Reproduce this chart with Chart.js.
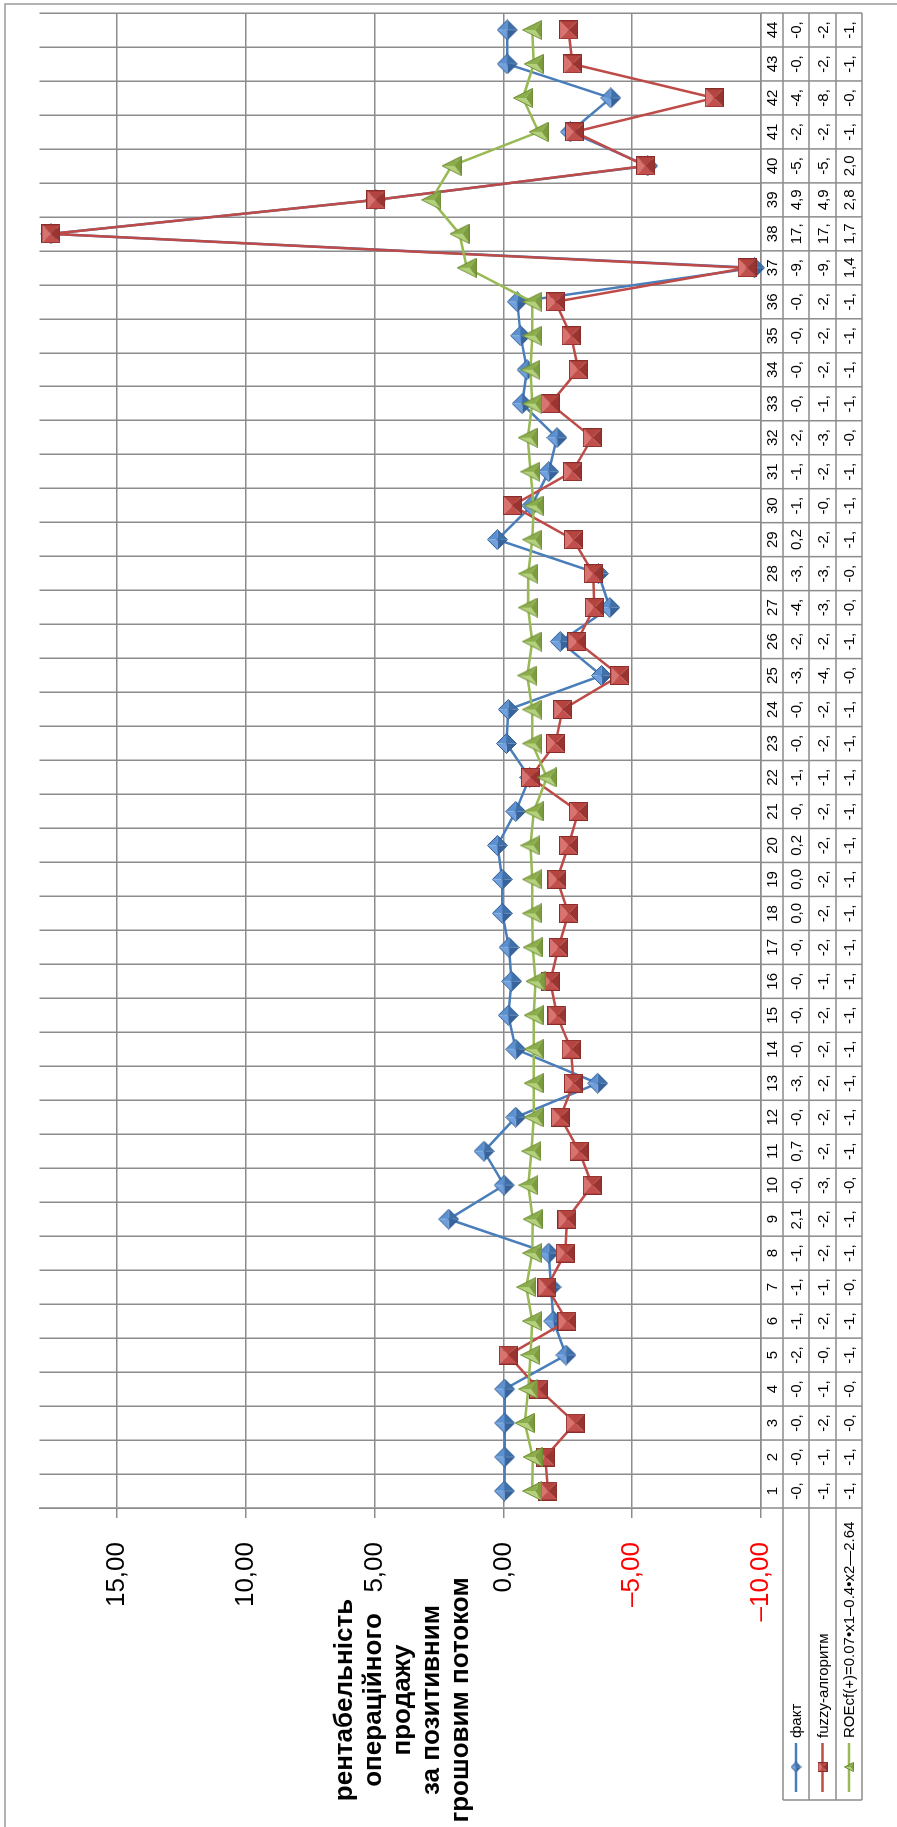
<!DOCTYPE html>
<html>
<head>
<meta charset="utf-8">
<script src="https://cdn.jsdelivr.net/npm/chart.js@4.4.1/dist/chart.umd.min.js"></script>
<style>
  html, body { margin: 0; padding: 0; background: #ffffff; overflow: hidden; }
  body { width: 897px; height: 1827px; position: relative; }
  /* the chart is laid out landscape and turned a quarter counter-clockwise */
  #frame {
    position: absolute; left: 0; top: 0;
    width: 1827px; height: 897px;
    transform-origin: 0 0;
    transform: translateY(1827px) rotate(-90deg);
  }
  #c { display: block; width: 1827px; height: 897px; }
</style>
</head>
<body>
<div id="frame"><canvas id="c" width="1827" height="897"></canvas></div>
<script>
// ---- data ----
const categories = ['1','2','3','4','5','6','7','8','9','10','11','12','13','14','15','16','17','18','19','20','21','22',
                    '23','24','25','26','27','28','29','30','31','32','33','34','35','36','37','38','39','40','41','42','43','44'];

const factValues = [-0.04, -0.05, -0.05, -0.05, -2.43, -1.95, -1.85, -1.76, 2.12, -0.03, 0.75,
                    -0.48, -3.66, -0.48, -0.19, -0.32, -0.22, 0.04, 0.04, 0.23, -0.48, -1.02,
                    -0.12, -0.19, -3.81, -2.21, -4.13, -3.69, 0.23, -1.10, -1.76, -2.08, -0.73,
                    -0.92, -0.67, -0.54, -9.75, 17.56, 4.95, -5.60, -2.60, -4.17, -0.15, -0.15];

const fuzzyValues = [-1.73, -1.63, -2.79, -1.37, -0.19, -2.47, -1.69, -2.40, -2.47, -3.45, -2.94,
                     -2.21, -2.72, -2.63, -2.08, -1.82, -2.14, -2.53, -2.08, -2.53, -2.91, -1.05,
                     -2.02, -2.30, -4.52, -2.85, -3.53, -3.49, -2.72, -0.35, -2.68, -3.45, -1.82,
                     -2.91, -2.63, -2.02, -9.46, 17.56, 4.95, -5.52, -2.76, -8.18, -2.68, -2.53];

const roeValues = [-1.12, -1.14, -0.83, -0.97, -1.05, -1.12, -0.89, -1.12, -1.14, -0.97, -1.09,
                   -1.18, -1.18, -1.18, -1.18, -1.25, -1.14, -1.12, -1.12, -1.05, -1.18, -1.69,
                   -1.12, -1.12, -0.93, -1.12, -0.96, -0.97, -1.12, -1.18, -1.05, -0.95, -1.12,
                   -1.05, -1.12, -1.12, 1.42, 1.70, 2.80, 2.01, -1.37, -0.76, -1.18, -1.12];

const valueTicks = [-10, -5, 0, 5, 10, 15];
const seriesNames = ['факт', 'fuzzy-алгоритм', 'ROEcf(+)=0.07•x1–0.4•x2—2.64'];
const axisTitleLines = ['рентабельність', 'операційного', 'продажу', 'за позитивним', 'грошовим потоком'];

// ---- look ----
const FONT = '"Liberation Sans", Arial, sans-serif';
const GRID = '#8c8c8c';
const lineColors = ['#4a7ebb', '#be4b48', '#98b954'];

// ---- bevelled marker images ----
function facet(g, pts, fill) {
  g.beginPath();
  g.moveTo(pts[0][0], pts[0][1]);
  for (let i = 1; i < pts.length; i++) g.lineTo(pts[i][0], pts[i][1]);
  g.closePath();
  g.fillStyle = fill;
  g.fill();
}
function newCanvas(s) {
  const c = document.createElement('canvas');
  c.width = s; c.height = s;
  return c;
}
function squareMarker(s) {
  const c = newCanvas(s), g = c.getContext('2d'), m = s / 2;
  facet(g, [[0, 0], [s, 0], [m, m]], '#d9736f');
  facet(g, [[s, 0], [s, s], [m, m]], '#b5443f');
  facet(g, [[s, s], [0, s], [m, m]], '#9a3431');
  facet(g, [[0, s], [0, 0], [m, m]], '#c24f4b');
  g.strokeStyle = '#882d2a'; g.lineWidth = 1;
  g.strokeRect(0.5, 0.5, s - 1, s - 1);
  return c;
}
function diamondMarker(s) {
  const c = newCanvas(s), g = c.getContext('2d'), m = s / 2;
  const t = [m, 0.5], r = [s - 0.5, m], b = [m, s - 0.5], l = [0.5, m], o = [m, m];
  facet(g, [t, r, o], '#5d90d0');
  facet(g, [r, b, o], '#3f70aa');
  facet(g, [b, l, o], '#37629c');
  facet(g, [l, t, o], '#6f9fdc');
  g.beginPath(); g.moveTo(t[0], t[1]); g.lineTo(r[0], r[1]); g.lineTo(b[0], b[1]); g.lineTo(l[0], l[1]); g.closePath();
  g.strokeStyle = '#305d92'; g.lineWidth = 1; g.stroke();
  return c;
}
function triangleMarker(s) {
  const c = newCanvas(s), g = c.getContext('2d'), m = s / 2;
  const a = [m, 0.5], br = [s - 0.5, s - 0.5], bl = [0.5, s - 0.5], o = [m, s * 0.64];
  facet(g, [a, br, o], '#8cad4b');
  facet(g, [br, bl, o], '#7c9c3e');
  facet(g, [bl, a, o], '#b3d17b');
  g.beginPath(); g.moveTo(a[0], a[1]); g.lineTo(br[0], br[1]); g.lineTo(bl[0], bl[1]); g.closePath();
  g.strokeStyle = '#6e8c35'; g.lineWidth = 1; g.stroke();
  return c;
}
const markers = [diamondMarker(21), squareMarker(19), triangleMarker(20)];
const keyMarkers = [diamondMarker(11), squareMarker(10), triangleMarker(10)];

function tickText(v) {
  return (v < 0 ? '–' : '') + Math.abs(v).toFixed(2).replace('.', ',');
}
// narrow table cells only show the first three characters of a value
function cellText(v) {
  return v.toFixed(2).replace('.', ',').slice(0, 3);
}

// ---- frame, axis title, data table with legend keys ----
const decor = {
  id: 'decor',
  beforeDraw(chart) {
    const ctx = chart.ctx;
    ctx.save();
    ctx.fillStyle = '#ffffff';
    ctx.fillRect(0, 0, chart.width, chart.height);
    ctx.restore();
  },
  afterDraw(chart) {
    const ctx = chart.ctx, area = chart.chartArea;
    const n = categories.length;
    const step = (area.right - area.left) / n;
    const rows = [area.bottom, area.bottom + 22, area.bottom + 48, area.bottom + 75, area.bottom + 101];
    const keyLeft = 27;

    ctx.save();
    // table rules
    ctx.strokeStyle = GRID;
    ctx.lineWidth = 1.5;
    ctx.beginPath();
    for (let r = 1; r < rows.length; r++) {
      ctx.moveTo(keyLeft, rows[r]);
      ctx.lineTo(area.right, rows[r]);
    }
    for (let i = 0; i <= n; i++) {
      const x = area.left + i * step;
      ctx.moveTo(x, rows[0]);
      ctx.lineTo(x, rows[4]);
    }
    ctx.moveTo(keyLeft, rows[1]);
    ctx.lineTo(keyLeft, rows[4]);
    ctx.stroke();

    // category row and value rows
    const xs = chart.scales.x;
    ctx.fillStyle = '#000000';
    ctx.textAlign = 'center';
    ctx.textBaseline = 'middle';
    ctx.font = '15px ' + FONT;
    const seriesData = [factValues, fuzzyValues, roeValues];
    for (let i = 0; i < n; i++) {
      const x = xs.getPixelForValue(i);
      ctx.fillText(categories[i], x, (rows[0] + rows[1]) / 2 + 1);
      for (let s = 0; s < 3; s++) {
        ctx.fillText(cellText(seriesData[s][i]), x, (rows[s + 1] + rows[s + 2]) / 2 + 1);
      }
    }

    // legend keys inside the table
    ctx.textAlign = 'left';
    ctx.font = '15px ' + FONT;
    for (let s = 0; s < 3; s++) {
      const cy = (rows[s + 1] + rows[s + 2]) / 2;
      ctx.strokeStyle = lineColors[s];
      ctx.lineWidth = 2.5;
      ctx.beginPath();
      ctx.moveTo(35, cy);
      ctx.lineTo(84, cy);
      ctx.stroke();
      const k = keyMarkers[s];
      ctx.drawImage(k, 60 - k.width / 2, cy - k.height / 2);
      ctx.fillStyle = '#000000';
      ctx.fillText(seriesNames[s], 89, cy + 1);
    }

    // value axis title
    ctx.font = 'bold 26px ' + FONT;
    ctx.textAlign = 'center';
    const mid = (area.top + area.bottom) / 2 + 3;
    axisTitleLines.forEach((t, i) => {
      ctx.fillText(t, 127, mid + (i - (axisTitleLines.length - 1) / 2) * 29);
    });

    // chart frame
    ctx.strokeStyle = '#9a9a9a';
    ctx.lineWidth = 1.5;
    ctx.beginPath();
    ctx.moveTo(0, 5);
    ctx.lineTo(1823, 5);
    ctx.lineTo(1823, chart.height);
    ctx.stroke();
    ctx.restore();
  }
};

const mkSet = (i, data, order) => ({
  label: seriesNames[i],
  data: data,
  borderColor: lineColors[i],
  backgroundColor: lineColors[i],
  borderWidth: 2.5,
  pointStyle: markers[i],
  pointRadius: 10,
  tension: 0,
  clip: false,
  order: order
});

new Chart(document.getElementById('c'), {
  type: 'line',
  data: {
    labels: categories,
    datasets: [mkSet(0, factValues, 3), mkSet(1, fuzzyValues, 2), mkSet(2, roeValues, 1)]
  },
  options: {
    responsive: false,
    animation: false,
    devicePixelRatio: 1,
    layout: { padding: { left: 0, top: 34, right: 13, bottom: 136 } },
    plugins: { legend: { display: false }, tooltip: { enabled: false } },
    events: [],
    scales: {
      x: {
        type: 'category',
        offset: true,
        grid: { offset: true, color: GRID, lineWidth: 1.5, drawTicks: false },
        border: { display: true, color: GRID, width: 1.5 },
        ticks: { display: false },
        afterFit: s => { s.height = 0; }
      },
      y: {
        min: -10,
        max: 18,
        afterBuildTicks: s => { s.ticks = valueTicks.map(v => ({ value: v })); },
        grid: { color: GRID, lineWidth: 1.5, drawTicks: true, tickLength: 10 },
        border: { display: true, color: GRID, width: 1.5 },
        ticks: {
          font: { family: FONT, size: 26 },
          color: c => (c.tick && c.tick.value < 0 ? '#ff0000' : '#000000'),
          padding: 24,
          callback: v => tickText(v)
        },
        afterFit: s => { s.width = 319; }
      }
    }
  },
  plugins: [decor]
});
</script>
</body>
</html>
